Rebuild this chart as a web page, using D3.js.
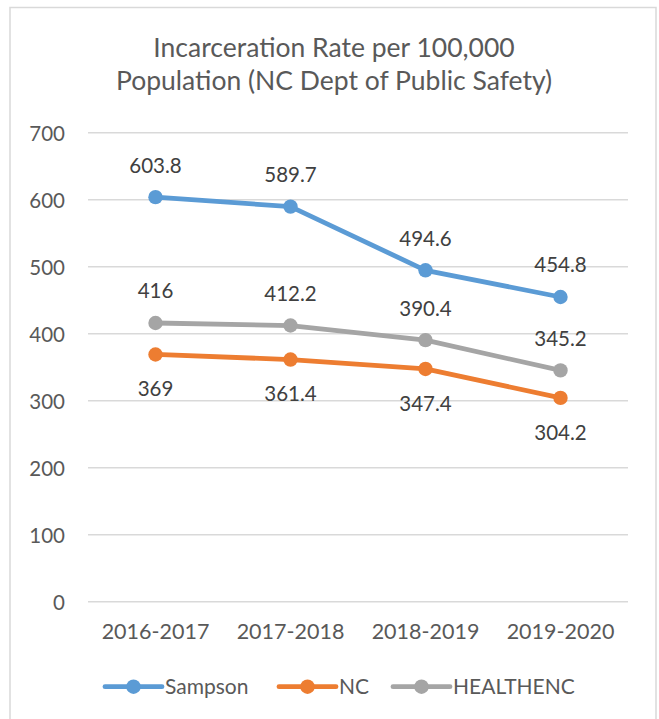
<!DOCTYPE html>
<html><head><meta charset="utf-8">
<script src="https://cdn.jsdelivr.net/npm/d3@7/dist/d3.min.js"></script>
<style>
html,body{margin:0;padding:0;background:#fff;}
svg{display:block;font-family:Lato, "Open Sans", sans-serif;}
</style></head>
<body>
<svg id="chart" width="659" height="719"></svg>
<script>
const categories = ["2016-2017", "2017-2018", "2018-2019", "2019-2020"];
const sampson = [603.8, 589.7, 494.6, 454.8];
const nc = [369, 361.4, 347.4, 304.2];
const healthenc = [416, 412.2, 390.4, 345.2];
const yTicks = [0, 100, 200, 300, 400, 500, 600, 700];
const titleLines = ["Incarceration Rate per 100,000", "Population (NC Dept of Public Safety)"];

const series = [
  {name: "Sampson", values: sampson, color: "#5B9BD5", labelPos: "above"},
  {name: "NC", values: nc, color: "#ED7D31", labelPos: "below"},
  {name: "HEALTHENC", values: healthenc, color: "#A5A5A5", labelPos: "above"}
];

(function draw() {
const svg = d3.select("#chart");

// outer border
svg.append("rect").attr("x", 10).attr("y", 7.5).attr("width", 646).attr("height", 730)
  .attr("fill", "#fff").attr("stroke", "#D9D9D9").attr("stroke-width", 1.5);

const pLeft = 88, pRight = 628, pTop = 132.7, pBottom = 601.7;
const x = d3.scaleBand().domain(categories).range([pLeft, pRight]);
const y = d3.scaleLinear().domain([0, 700]).range([pBottom, pTop]);

// title
const title = svg.append("text").attr("x", 334).attr("text-anchor", "middle")
  .attr("fill", "#595959").style("font-size", "26.5px");
titleLines.forEach((t, i) => title.append("tspan").attr("x", 334).attr("y", 57 + i * 33).text(t));

// gridlines
svg.append("g").selectAll("line").data(yTicks).join("line")
  .attr("x1", pLeft).attr("x2", pRight)
  .attr("y1", d => y(d)).attr("y2", d => y(d))
  .attr("stroke", "#D9D9D9").attr("stroke-width", 1.5);

// y axis
const yAxis = svg.append("g").attr("transform", `translate(${pLeft},0)`)
  .call(d3.axisLeft(y).tickValues(yTicks).tickSize(0).tickPadding(23));
yAxis.select(".domain").remove();
yAxis.selectAll("text").attr("fill", "#595959").style("font-size", "20.5px")
  .style("font-family", "Lato, 'Open Sans', sans-serif").attr("dy", "0.36em");

// x axis
const xAxis = svg.append("g").attr("transform", `translate(0,${pBottom})`)
  .call(d3.axisBottom(x).tickSize(0).tickPadding(22));
xAxis.select(".domain").remove();
xAxis.selectAll("text").attr("fill", "#595959").style("font-size", "21.5px")
  .style("font-family", "Lato, 'Open Sans', sans-serif").attr("dy", "0.71em");

const cx = c => x(c) + x.bandwidth() / 2;
const line = d3.line().x((d, i) => cx(categories[i])).y(d => y(d));

series.forEach(s => {
  svg.append("path").datum(s.values).attr("d", line)
    .attr("fill", "none").attr("stroke", s.color).attr("stroke-width", 4.8)
    .attr("stroke-linejoin", "round").attr("stroke-linecap", "round");
  svg.append("g").selectAll("circle").data(s.values).join("circle")
    .attr("cx", (d, i) => cx(categories[i])).attr("cy", d => y(d)).attr("r", 7.2)
    .attr("fill", s.color);
});

series.forEach(s => {
  svg.append("g").selectAll("text").data(s.values).join("text")
    .attr("x", (d, i) => cx(categories[i]))
    .attr("y", d => s.labelPos === "above" ? y(d) - 24.6 : y(d) + 41.7)
    .attr("text-anchor", "middle").attr("fill", "#404040").style("font-size", "20.5px")
    .text(d => d);
});

// legend
const legendX = [105, 279, 393];
const ly = 686.7;
series.forEach((s, i) => {
  const lx = legendX[i];
  const g = svg.append("g");
  g.append("line").attr("x1", lx).attr("x2", lx + 57).attr("y1", ly).attr("y2", ly)
    .attr("stroke", s.color).attr("stroke-width", 4.8).attr("stroke-linecap", "round");
  g.append("circle").attr("cx", lx + 28.5).attr("cy", ly).attr("r", 7.2).attr("fill", s.color);
  g.append("text").attr("x", lx + 60).attr("y", ly).attr("dy", "0.36em")
    .attr("fill", "#595959").style("font-size", "21px").text(s.name);
});
})();
</script>
</body></html>
